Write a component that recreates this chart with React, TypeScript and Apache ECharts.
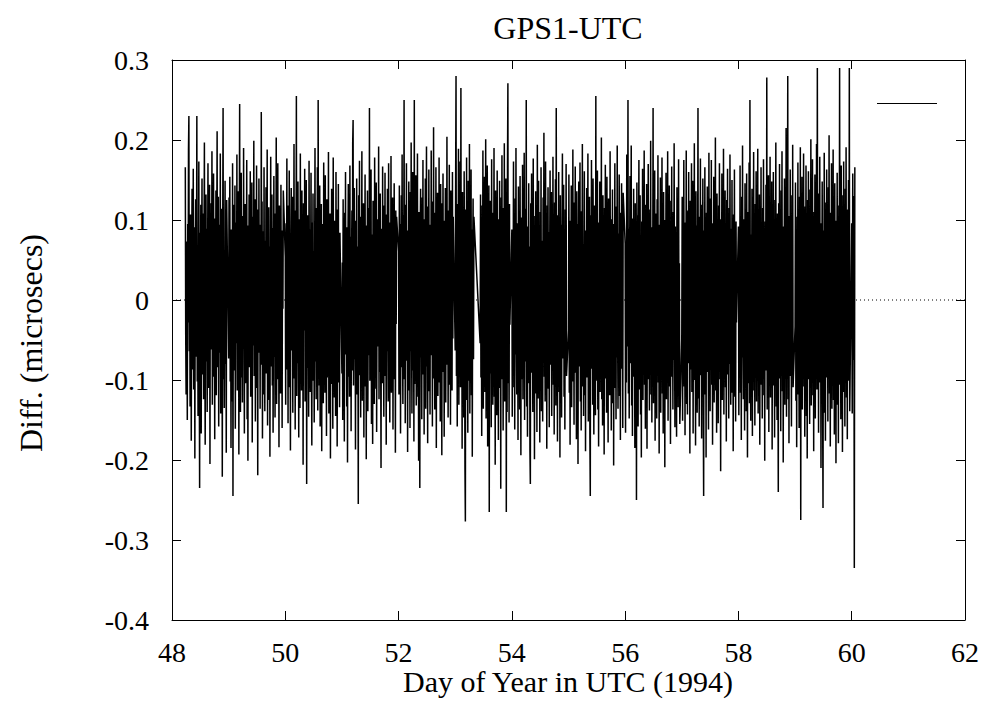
import React, { useEffect, useRef } from "react";
import * as echarts from "echarts";

// GPS1-UTC differences, stored in nanoseconds (converted to microseconds for plotting)
const d48 = [166,-42,-118,73,12,-150,95,-28,188,230,-64,41,-133,107,-9,-176,58,139,-87,22,164,-112,-35,91,-198,47,126,-71,5,230,-102,68,-145,18,173,-56,-235,84,-21,119,-167,36,152,-93,-4,108,-124,61,197,-48,-181,15,132,-77,89,-140,27,171,-110,52,-29,144,-205,78,-62,121,-15,186,-131,43,-96,158,-53,10,-174,102,-38,137,-119,66,211,-84,-7,129,-158,31,94,-66,183,-142,49,-22,114,-221,74,240,-99,57,-135,16,149,-80,38,-191,125];
const d49 = [-73,128,-16,154,-102,37,-185,88,6,-127,171,-245,64,-39,119,-88,143,-161,25,97,-54,182,-113,48,-12,136,-193,71,245,-76,-140,33,159,-97,14,-128,105,-61,190,-35,-167,82,120,-104,46,-8,175,-149,59,-201,93,-27,132,-84,17,161,-121,69,-44,147,-178,28,104,-57,199,-95,-3,126,-152,81,-32,168,-110,41,-219,113,-66,152,-18,94,-136,57,-81,235,-47,123,-173,9,86,-118,166,-29,-139,74,-60,141,-92,19,188,-157,52,-14,116,-125,67,-196,35,179,-83,-41,132,-107,90,-166,13,155,-71,44,-147,108,-24,203,-130,62,-58,171,-99,26,-184,118,-37,93,-117,144,-69,21,-160,87,-11,137];
const d50 = [54,-131,96,-22,177,-87,31,-154,118,-46,162,-109,8,-188,73,140,-63,-17,129,-141,86,-34,195,-98,47,-162,112,-6,255,-120,65,-79,148,-26,-172,101,39,-135,183,-56,17,-113,137,-91,58,-206,121,-38,-4,164,-127,72,-64,150,-230,49,106,-85,13,-146,174,-31,88,-115,27,159,-70,-182,97,-19,133,-101,61,-153,11,190,-77,42,-124,115,-49,166,-138,250,-66,23,-107,143,-158,81,-12,120,-189,56,95,-40,-129,172,-83,34,-116,156,-59,7,-170,126,-97,63,-25,185,-142,44,-74,108,-198,89,-15,139,-105,52,-161,178,-36,71,-122,99,-9,-145,160,-57,28,-183,113,-68,145,-103,38,-134,84];
const d51 = [-92,47,-150,126,-15,83,-177,109,-41,160,-68,22,-133,91,-203,58,145,-96,3,-121,168,-53,79,-164,37,112,-88,196,225,-107,-28,140,-74,16,-187,99,-45,152,-118,67,-19,-255,131,-62,174,-94,40,-147,104,-11,186,-126,55,-80,121,-172,29,-35,157,-108,72,-199,93,-56,137,-139,18,115,-69,240,-101,48,-24,163,-155,82,-7,-180,124,-86,35,-130,178,-47,61,-111,147,-165,26,101,-58,-13,192,-124,76,-90,133,-37,-210,89,50,-104,167,-71,14,-146,118,-33,159,-95,43,-181,107,-64,139,-20,-127,171,-82,65,-153,97,-43,180,-116,31,-69,128,-162,54,-8,146,-99,78,-191,112,-30,104];
const d52 = [61,-118,143,-39,95,-167,28,131,-84,182,-52,-130,106,-17,250,-99,70,-154,119,-45,171,-76,12,-190,87,-27,148,-113,53,-160,135,-64,197,-31,-142,78,160,-88,24,-177,250,-105,44,-58,156,-132,91,-18,183,-121,67,-201,110,-37,-235,84,139,-72,5,-149,128,-46,175,-93,36,-168,101,-23,152,-136,59,192,-83,-11,-179,117,-56,163,-114,29,-143,94,-69,187,-32,123,-158,47,-98,216,-75,15,-137,109,-50,166,-185,73,-8,134,-120,41,-65,178,-103,20,-152,145,-36,86,-194,121,-59,158,-90,33,-171,99,-14,140,-128,62,-81,204,-44,112,-147,27,-106,169,-73,53,-156,137,-24,93,-113,160,-48,104];
const d53a = [-63,142,280,-95,37,-158,120,-12,189,-131,66,-44,173,-109,265,-80,29,-186,135,-57,98,-147,161,-22,-210,-277,113,-68,178,-125,48,-166,149,-38,-101,195,-142,71,-15,163,-119,88,-196,54,127,-74,104];
const d53b = [-54,132,-97,41,-170,118,-28,187,-136,63,-81,154,-115,22,201,-148,75,-39,168,-183,96,-11,143,-265,58,124,-92,30,-159,176,-67,109,-131,45,-19,190,-121,82,-206,137,-53,16,-144,162,-88,69,-175,101,-34,149,-110,57,-236,128,-45,181,-99,24,-163,115,-73,196,-127,38,-58,152,-265,89,-140,166,271,-104,47,-153,120,-31];
const d54 = [88,-146,57,-21,173,-109,34,-162,127,-68,190,-41,-118,96,11,-175,142,-85,62,-137,155,-29,-194,103,46,-99,169,-124,78,-55,184,-150,20,114,-77,250,-133,39,-171,92,-12,146,-104,67,-188,-230,121,-49,158,-91,28,-140,177,-63,105,-199,83,-36,136,-117,51,-165,194,-8,-123,149,-86,43,-178,110,-57,166,-139,74,14,-152,128,-44,209,-96,31,-127,173,-70,59,-186,118,-25,141,-111,85,-159,47,162,-81,-17,135,-145,97,-52,179,-106,23,-168,122,-64,151,-132,240,-89,38,-177,106,-40,160,-115,69,-197,131,-19,94,-147,57,183,-73,-28,144,-121,80,-162,113,-46,170,-95];
const d55 = [-38,157,-116,64,-181,99,-23,143,-134,75,-59,188,-102,31,-156,122,-47,167,-91,18,-174,136,-68,95,-205,53,148,-83,-14,172,-127,42,-163,111,-36,195,-108,70,-145,26,161,-119,87,-189,58,-31,140,-97,16,183,-152,81,-62,129,-172,-245,106,-44,175,-86,33,-131,152,-19,-168,118,-73,92,-144,255,-101,49,-26,162,-137,68,-183,97,-9,148,-115,61,-78,203,-124,37,-157,131,-54,86,-193,115,-32,169,-98,45,-141,154,-66,13,-178,127,-88,59,-119,186,-41,101,-163,74,-15,138,-129,95,-207,66,-51,171,-110,29,-149,117,-72,193,-35,-136,83,-94,157,-120,40,-175,109,-58,146,-86,22,-160,134];
const d56 = [71,-166,45,-103,182,-58,24,250,-117,89,-148,36,155,-79,-21,193,-132,64,-170,102,-43,139,-96,17,-185,121,-67,84,-250,147,-33,106,-158,52,175,-112,-8,131,-143,76,-197,98,-49,164,-125,39,-81,187,-106,27,-161,119,-55,145,-186,62,-27,170,-99,48,-138,113,-72,199,-118,33,-153,91,-15,240,-129,57,-87,162,-176,41,108,-64,-148,126,-34,181,-103,69,-192,94,-20,153,-141,85,-61,178,-117,11,-167,135,-46,100,-209,72,-29,159,-124,56,-88,186,-151,37,-12,143,-108,79,-180,124,-53,167,-96,24,-137,110,-75,196,-42,-159,92,-118,63,-171,141,-30,88,-134,176,-85,46,-155];
const d57 = [-47,129,-151,68,-23,175,-108,40,-169,97,-64,187,-130,15,-143,112,-79,160,-36,55,-192,124,-87,31,171,-115,-6,149,-167,82,-52,196,-100,47,-182,136,-70,93,-141,19,240,-123,61,-158,104,-31,177,-94,26,-173,119,-57,152,-135,-245,87,-42,166,-118,53,-197,109,-15,142,-90,35,-162,184,-75,12,-139,127,-48,175,-106,64,-181,96,-24,154,-128,71,-60,203,-113,29,-166,133,-39,92,-154,118,-7,171,-99,44,-214,101,-66,158,-125,38,-85,189,-143,76,-19,137,-109,57,-177,125,-50,164,-93,22,-148,115,-80,182,-37,-131,89,-116,150,-62,34,-189,107,-41,163,-121,70,-152,98,-28];
const d58 = [92,-144,61,-29,168,-116,35,-175,129,-72,193,-55,-124,101,18,-163,146,-88,67,-139,158,-34,-197,110,51,-104,172,-129,250,-60,-151,82,-19,139,-170,94,-46,185,-113,26,-157,120,-78,161,-127,43,-6,189,-142,73,-95,132,-181,57,-38,166,-106,21,-148,115,-64,176,-119,49,-201,98,-27,144,-88,278,-137,62,-15,156,-165,84,-52,179,-122,36,-94,148,-187,68,-31,160,-107,42,-172,125,-59,197,-133,16,-150,108,-77,-240,121,-45,170,-98,33,-164,137,-68,186,-114,55,-203,92,-21,152,-131,74,-84,215,-146,39,-11,280,-124,66,-179,105,-40,163,-95,28,-158,131,-73,194,-109];
const d59 = [-33,147,-126,78,-184,104,-51,172,-118,35,-160,129,-69,191,-275,88,-14,154,-137,60,-92,183,-108,41,-171,117,-57,168,-145,22,-198,125,-38,161,-99,73,-155,138,-21,201,-132,47,-86,176,-119,64,-189,110,-28,157,-148,82,-63,195,-112,290,-70,31,-166,133,-45,179,-103,56,-210,96,-17,148,-128,-260,87,-59,184,-141,39,-176,122,-34,163,-97,68,-152,141,-24,206,-117,53,-183,109,-74,171,-136,27,-93,188,-125,61,-168,146,-42,99,-204,77,-11,159,-131,84,-179,118,-55,290,-106,36,-149,168,-81,24,-190,131,-47,173,-115,62,-158,139,-30,191,-122,85,-174,113,-66,150,-101,290,-139];
const d60 = [96,-142,158,-75,130,-335,166];

// Time span (day of year) covered by each block of samples
const segmentStarts = [48.235, 49.0, 50.0, 51.0, 52.0, 53.0, 53.44, 54.0, 55.0, 56.0, 57.0, 58.0, 59.0, 60.0];
const segmentEnds = [48.965, 49.965, 50.965, 51.965, 52.965, 53.33, 53.965, 54.965, 55.965, 56.965, 57.965, 58.965, 59.965, 60.055];
const segmentValues = [d48, d49, d50, d51, d52, d53a, d53b, d54, d55, d56, d57, d58, d59, d60];

const xTicks = { min: 48, max: 62, interval: 2 };
const yTicks = { min: -0.4, max: 0.3, interval: 0.1 };

const SERIF = "Liberation Serif";

export default function App() {
  const ref = useRef<HTMLDivElement>(null);
  useEffect(() => {
    document.body.style.margin = "0";
    if (!ref.current) return;
    const chart = echarts.init(ref.current, undefined, { renderer: "svg" });

    const data: number[][] = [];
    segmentValues.forEach((vals, s) => {
      const a = segmentStarts[s];
      const b = segmentEnds[s];
      vals.forEach((v, i) => {
        data.push([a + ((b - a) * i) / (vals.length - 1), v / 1000]);
      });
    });

    const axisLine = { show: true, onZero: false, lineStyle: { color: "#000", width: 1 } };
    const tick = { show: true, inside: true, length: 9, lineStyle: { color: "#000", width: 1 } };
    const label = { fontFamily: SERIF, fontSize: 28, color: "#000", lineHeight: 28 };

    chart.setOption({
      animation: false,
      backgroundColor: "#fff",
      grid: { left: 172, top: 60, width: 793, height: 560, containLabel: false },
      xAxis: [
        {
          type: "value", position: "bottom", ...xTicks,
          axisLine, axisTick: tick, splitLine: { show: false },
          axisLabel: { ...label, margin: 18 },
        },
        {
          type: "value", position: "top", ...xTicks,
          axisLine, axisTick: tick, splitLine: { show: false },
          axisLabel: { show: false },
        },
      ],
      yAxis: [
        {
          type: "value", position: "left", ...yTicks,
          axisLine, axisTick: tick, splitLine: { show: false },
          axisLabel: { ...label, margin: 23, formatter: (v: number) => String(Number(v.toFixed(1))) },
        },
        {
          type: "value", position: "right", ...yTicks,
          axisLine, axisTick: tick, splitLine: { show: false },
          axisLabel: { show: false },
        },
      ],
      graphic: [
        {
          type: "text", x: 568, y: 28,
          style: { text: "GPS1-UTC", fontFamily: SERIF, fontSize: 32, lineHeight: 32, fill: "#000", align: "center", verticalAlign: "middle" },
        },
        {
          type: "text", x: 568, y: 681,
          style: { text: "Day of Year in UTC (1994)", fontFamily: SERIF, fontSize: 30, lineHeight: 30, fill: "#000", align: "center", verticalAlign: "middle" },
        },
        {
          type: "text", x: 31, y: 343, rotation: Math.PI / 2,
          style: { text: "Diff. (microsecs)", fontFamily: SERIF, fontSize: 32, lineHeight: 32, fill: "#000", align: "center", verticalAlign: "middle" },
        },
        {
          type: "line", shape: { x1: 877, y1: 103.5, x2: 937, y2: 103.5 },
          style: { stroke: "#000", lineWidth: 1 },
        },
      ],
      series: [
        {
          type: "line", xAxisIndex: 0, yAxisIndex: 0, z: 1, silent: true,
          data: [[xTicks.min, 0], [xTicks.max, 0]],
          symbol: "none", lineStyle: { color: "#000", width: 1, type: [1, 3] },
        },
        {
          type: "line", xAxisIndex: 0, yAxisIndex: 0, z: 2, silent: true,
          data, symbol: "none", showSymbol: false,
          lineStyle: { color: "#000", width: 1.5 },
        },
      ],
    });
    return () => chart.dispose();
  }, []);
  return <div ref={ref} style={{ width: 986, height: 706, overflow: "hidden" }} />;
}
